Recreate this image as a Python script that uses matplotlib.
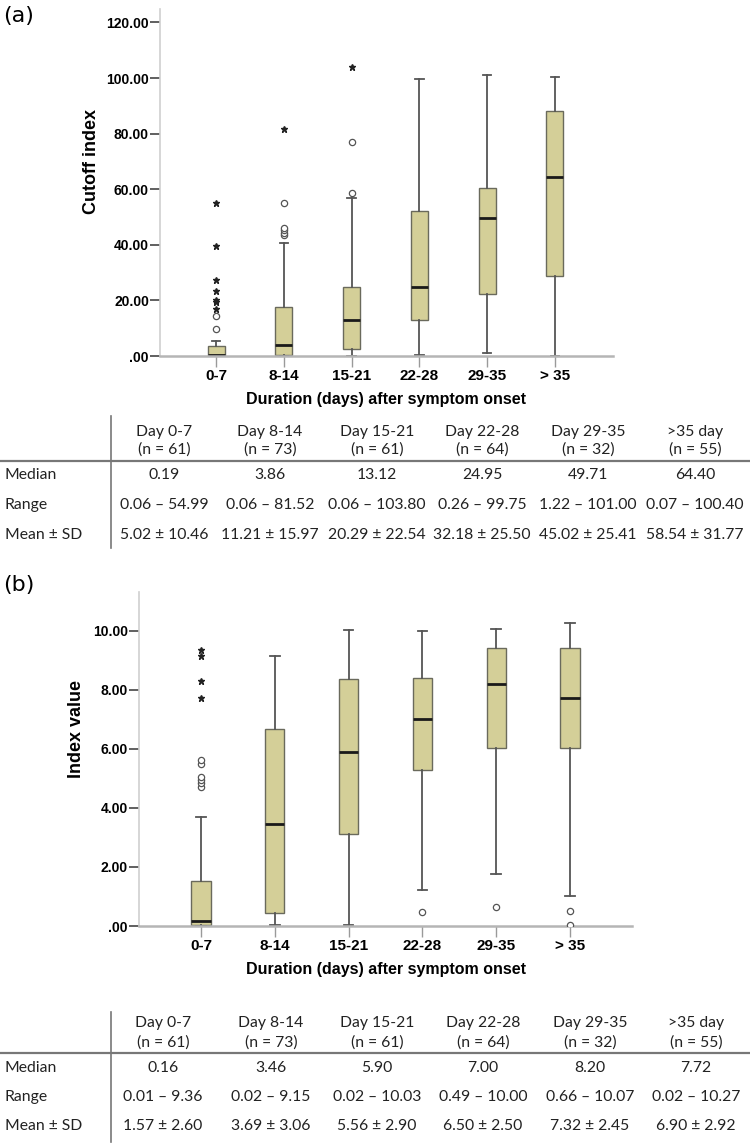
import numpy as np
import matplotlib
matplotlib.use("Agg")
import matplotlib.pyplot as plt

cats = ['0-7', '8-14', '15-21', '22-28', '29-35', '> 35']

# panel (a): cutoff index
a_q1 = [0.06, 0.5, 2.4, 13.1, 22.2, 28.6]
a_med = [0.19, 3.86, 13.12, 24.95, 49.71, 64.40]
a_q3 = [3.7, 17.6, 24.7, 52.2, 60.3, 88.3]
a_lo = [0.06, 0.06, 0.06, 0.26, 1.22, 0.07]
a_hi = [5.5, 40.6, 57.0, 99.75, 101.0, 100.4]
a_circles = [[9.7, 14.4], [43.5, 44.3, 45.2, 46.0, 55.0], [58.6, 77.0], [], [], []]
a_stars = [[16.9, 19.6, 20.2, 23.4, 27.5, 39.5, 54.99], [81.52], [103.8], [], [], []]

# panel (b): index value
b_q1 = [0.03, 0.45, 3.12, 5.29, 6.02, 6.02]
b_med = [0.16, 3.46, 5.90, 7.00, 8.20, 7.72]
b_q3 = [1.52, 6.68, 8.37, 8.41, 9.42, 9.42]
b_lo = [0.01, 0.02, 0.02, 1.22, 1.76, 1.02]
b_hi = [3.7, 9.15, 10.03, 10.00, 10.07, 10.27]
b_circles = [[4.72, 4.84, 4.95, 5.06, 5.49, 5.63], [], [], [0.49], [0.66], [0.02, 0.52]]
b_stars = [[7.72, 8.31, 9.15, 9.36], [], [], [], [], []]

# tables
col_heads = ['Day 0-7', 'Day 8-14', 'Day 15-21', 'Day 22-28', 'Day 29-35', '>35 day']
col_n = ['(n = 61)', '(n = 73)', '(n = 61)', '(n = 64)', '(n = 32)', '(n = 55)']
row_names = ['Median', 'Range', 'Mean \u00b1 SD']
ta_median = ['0.19', '3.86', '13.12', '24.95', '49.71', '64.40']
ta_range = ['0.06 \u2013 54.99', '0.06 \u2013 81.52', '0.06 \u2013 103.80', '0.26 \u2013 99.75', '1.22 \u2013 101.00', '0.07 \u2013 100.40']
ta_mean = ['5.02 \u00b1 10.46', '11.21 \u00b1 15.97', '20.29 \u00b1 22.54', '32.18 \u00b1 25.50', '45.02 \u00b1 25.41', '58.54 \u00b1 31.77']
tb_median = ['0.16', '3.46', '5.90', '7.00', '8.20', '7.72']
tb_range = ['0.01 \u2013 9.36', '0.02 \u2013 9.15', '0.02 \u2013 10.03', '0.49 \u2013 10.00', '0.66 \u2013 10.07', '0.02 \u2013 10.27']
tb_mean = ['1.57 \u00b1 2.60', '3.69 \u00b1 3.06', '5.56 \u00b1 2.90', '6.50 \u00b1 2.50', '7.32 \u00b1 2.45', '6.90 \u00b1 2.92']

W, H = 750, 1144
fig = plt.figure(figsize=(7.5, 11.44), dpi=100)

def fx(x):
    return x / W

def fy(y):
    return 1 - y / H

BOX = '#d4cf98'
EDGE = '#6a6a5c'
WHISK = '#555555'
BOLD = dict(family=['Liberation Sans', 'DejaVu Sans'], weight='bold')


def boxpanel(rect, q1, med, q3, lo, hi, circ, star, ylim, yticks, ylabel, xlim, width, ylab_xy):
    ax = fig.add_axes(rect)
    stats = []
    for i in range(len(cats)):
        stats.append(dict(med=med[i], q1=q1[i], q3=q3[i], whislo=lo[i], whishi=hi[i], fliers=[]))
    ax.bxp(stats, positions=range(len(cats)), widths=width, patch_artist=True,
           showfliers=False, capwidths=width * 0.5,
           boxprops=dict(facecolor=BOX, edgecolor=EDGE, linewidth=1.0),
           medianprops=dict(color='#1a1a1a', linewidth=2.0),
           whiskerprops=dict(color=WHISK, linewidth=1.3),
           capprops=dict(color=WHISK, linewidth=1.3))
    # outliers: circles and extreme stars
    for i in range(len(cats)):
        if circ[i]:
            ax.plot([i] * len(circ[i]), circ[i], 'o', ms=4.5, mfc='white', mec='#555555', mew=0.9, zorder=5)
        if star[i]:
            ax.plot([i] * len(star[i]), star[i], '*', ms=4.5, color='#222222', zorder=5)
    ax.set_xlim(*xlim)
    ax.set_ylim(*ylim)
    ax.set_yticks(yticks)
    ax.set_yticklabels(['.00' if v == 0 else f'{v:.2f}' for v in yticks], fontsize=10, **BOLD)
    ax.set_xticks(range(len(cats)))
    ax.set_xticklabels(cats, fontsize=11, **BOLD)
    ax.tick_params(axis='y', length=7, width=1.2, color='#444444', pad=1)
    ax.tick_params(axis='x', length=8, width=1.0, color='#9a9a9a', pad=1, direction='out')
    for s in ['top', 'right']:
        ax.spines[s].set_visible(False)
    ax.spines['left'].set_color('#cfcfcf')
    ax.spines['left'].set_linewidth(1.2)
    ax.spines['bottom'].set_color('#b5b5b5')
    ax.spines['bottom'].set_linewidth(1.8)
    ax.set_xlabel('Duration (days) after symptom onset', fontsize=11.5, labelpad=7, **BOLD)
    ax.set_ylabel(ylabel, fontsize=13, **BOLD)
    ax.yaxis.set_label_coords(*ylab_xy)
    return ax

# panel (a)
ya0, ya_top = 356, 8.5
boxpanel([fx(160), fy(ya0), fx(613) - fx(160), (ya0 - ya_top) / H],
         a_q1, a_med, a_q3, a_lo, a_hi, a_circles, a_stars,
         (0, 125), [0, 20, 40, 60, 80, 100, 120], 'Cutoff index',
         (-0.83, 5.86), 0.25, (-0.133, 0.56))

# panel (b)
yb0, yb_top = 926, 592
boxpanel([fx(139), fy(yb0), fx(632) - fx(139), (yb0 - yb_top) / H],
         b_q1, b_med, b_q3, b_lo, b_hi, b_circles, b_stars,
         (0, 11.32), [0, 2, 4, 6, 8, 10], 'Index value',
         (-0.84, 5.84), 0.26, (-0.11, 0.59))

fig.text(fx(3), fy(16), '(a)', fontsize=16, va='center', ha='left')
fig.text(fx(3), fy(585), '(b)', fontsize=16, va='center', ha='left')

TF = dict(family=['Lato', 'DejaVu Sans'], fontsize=11.3, color='#222222')


def table(xcols, yh1, yh2, yline, yrows, vtop, vbot, rows):
    for i, x in enumerate(xcols):
        fig.text(fx(x), fy(yh1), col_heads[i], ha='center', va='center', **TF)
        fig.text(fx(x), fy(yh2), col_n[i], ha='center', va='center', **TF)
    for r, name in enumerate(row_names):
        fig.text(fx(5), fy(yrows[r]), name, ha='left', va='center', **TF)
        for i, x in enumerate(xcols):
            fig.text(fx(x), fy(yrows[r]), rows[r][i], ha='center', va='center', **TF)
    fig.add_artist(plt.Line2D([0, 1], [fy(yline), fy(yline)], color='#777777', lw=1.6))
    fig.add_artist(plt.Line2D([fx(111), fx(111)], [fy(vtop), fy(vbot)], color='#777777', lw=1.2))

table([164, 270, 377, 482, 588, 695], 432, 450, 461, [475, 505, 535], 416, 548,
      [ta_median, ta_range, ta_mean])
table([163, 271, 377, 483, 590, 696], 1023, 1043, 1053, [1068, 1097, 1126], 1012, 1142,
      [tb_median, tb_range, tb_mean])

fig.savefig('out.png', dpi=100, facecolor='white')
